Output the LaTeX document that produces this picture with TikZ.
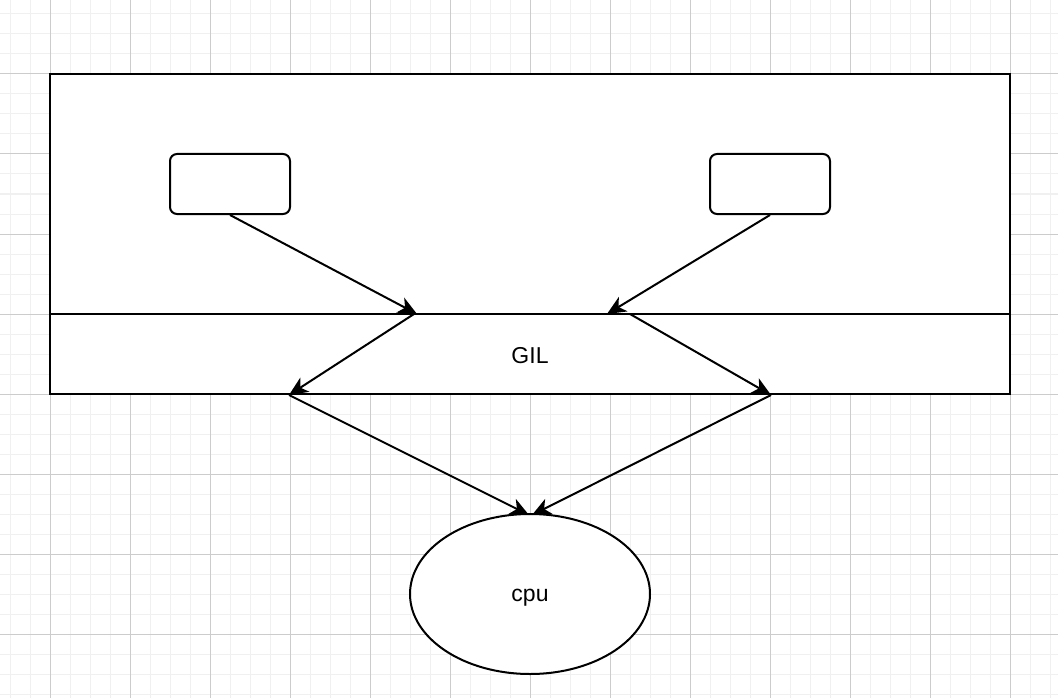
\documentclass[tikz,border=0pt]{standalone}
\usepackage{fontspec}
\setmainfont{Liberation Sans}
\usetikzlibrary{arrows.meta,shapes.geometric}
\begin{document}
\begin{tikzpicture}[x=1pt,y=-1pt,
  minorgrid/.style={draw=black!6,line width=1pt},
  majorgrid/.style={draw=black!20,line width=1pt},
  box/.style={draw=black,fill=white,line width=2pt,rectangle,inner sep=0pt},
  roundbox/.style={box,rounded corners=7pt,minimum width=120pt,minimum height=60pt},
  lbl/.style={font=\fontsize{23}{28}\selectfont},
  conn/.style={draw=black,line width=2pt,-{Stealth[length=19pt,width=17pt,inset=5.5pt,line width=0pt]}}
]
\useasboundingbox (0,0) rectangle (1058,698);
\fill[white] (0,0) rectangle (1058,698);
\foreach \x in {10,30,...,1050} \draw[minorgrid] (\x,0) -- (\x,698);
\foreach \y in {14,34,...,694} \draw[minorgrid] (0,\y) -- (1058,\y);
\foreach \x in {50,130,...,1010} \draw[majorgrid] (\x,0) -- (\x,698);
\foreach \y in {74,154,...,634} \draw[majorgrid] (0,\y) -- (1058,\y);

\node[box,minimum width=960pt,minimum height=240pt] (top) at (530,194) {};
\node[box,minimum width=960pt,minimum height=80pt] (gil) at (530,354) {};
\node[lbl,inner sep=0pt] (giltext) at (530,355.5) {GIL};
\node[roundbox] (b1) at (230,184) {};
\node[roundbox] (b2) at (770,184) {};
\node[draw=black,fill=white,line width=2pt,ellipse,inner sep=0pt,minimum width=240pt,minimum height=160pt] (cpu) at (530,594) {};
\node[lbl,inner sep=0pt,text depth=0pt] (cputext) at (530,595) {cpu};

\coordinate (p1) at (417,314);
\coordinate (p1s) at (414,314);
\coordinate (p2) at (607,314);
\coordinate (p3) at (630,314);
\coordinate (q1) at (289,395);
\coordinate (q2) at (771,395);
\coordinate (c1) at (529,515);
\coordinate (c2) at (532,515);

\draw[conn] (b1.south) -- (p1);
\draw[conn] (b2.south) -- (p2);
\draw[conn] (p1s) -- (q1);
\draw[conn] (p3) -- (q2);
\draw[conn] (q1) -- (c1);
\draw[conn] (q2) -- (c2);
\end{tikzpicture}
\end{document}
